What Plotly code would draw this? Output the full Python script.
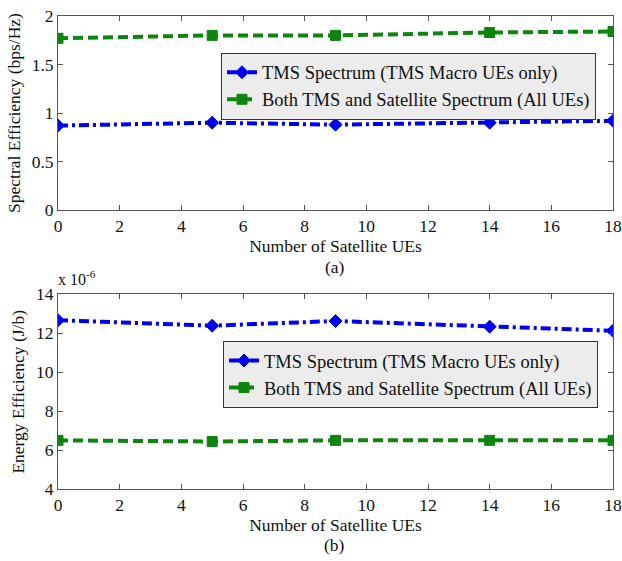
import plotly.graph_objects as go

x_ues = [0, 5, 9, 14, 18]
se_tms = [0.87, 0.90, 0.88, 0.90, 0.92]
se_both = [1.77, 1.80, 1.80, 1.83, 1.84]
ee_tms = [12.67, 12.39, 12.63, 12.34, 12.13]
ee_both = [6.51, 6.45, 6.51, 6.51, 6.51]

name_tms = "TMS Spectrum (TMS Macro UEs only)"
name_both = "Both TMS and Satellite Spectrum (All UEs)"
xticks = list(range(0, 19, 2))

W, H = 622, 561
FONT = "Liberation Serif"
BLUE = "#0000f0"
GREEN = "#0e850e"

fig = go.Figure()

def add(x, y, name, color, dash, symbol, xa, ya, legend):
    fig.add_trace(go.Scatter(
        x=x, y=y, name=name, mode="lines+markers",
        line=dict(color=color, width=4, dash=dash),
        marker=dict(symbol=symbol, size=10, color=color,
                    line=dict(color=color, width=1)),
        xaxis=xa, yaxis=ya, legend=legend))

add(x_ues, se_tms, name_tms, BLUE, "10px,4px,3px,4px", "diamond", "x", "y", "legend")
add(x_ues, se_both, name_both, GREEN, "10px,5px", "square", "x", "y", "legend")
add(x_ues, ee_tms, name_tms, BLUE, "10px,4px,3px,4px", "diamond", "x2", "y2", "legend2")
add(x_ues, ee_both, name_both, GREEN, "10px,5px", "square", "x2", "y2", "legend2")

xd = [58 / W, 613 / W]
axis_common = dict(showgrid=False, zeroline=False, showline=True, mirror="allticks",
                   linecolor="#555555", linewidth=1, ticks="inside", ticklen=5,
                   tickcolor="#555555", automargin=False,
                   tickfont=dict(family=FONT, size=17.5, color="#111"))
TF = dict(family=FONT, size=17.5, color="#111")

fig.update_layout(
    template="none",
    width=W, height=H, margin=dict(l=0, r=0, t=0, b=0, autoexpand=False),
    paper_bgcolor="white", plot_bgcolor="white",
    font=dict(family=FONT, color="#111"),
    xaxis=dict(domain=xd, range=[0, 18], tickvals=xticks, anchor="y",
               title=dict(text="Number of Satellite UEs", font=TF, standoff=0),
               **axis_common),
    yaxis=dict(domain=[1 - 210 / H, 1 - 16 / H], range=[0, 2], tickvals=[0, 0.5, 1, 1.5, 2],
               ticktext=["0", "0.5", "1", "1.5", "2"], anchor="x",
               title=dict(text="Spectral Efficiency (bps/Hz)", font=TF, standoff=6),
               **axis_common),
    xaxis2=dict(domain=xd, range=[0, 18], tickvals=xticks, anchor="y2",
                title=dict(text="Number of Satellite UEs", font=TF, standoff=0),
                **axis_common),
    yaxis2=dict(domain=[1 - 489.3 / H, 1 - 294.3 / H], range=[4, 14], tickvals=[4, 6, 8, 10, 12, 14],
                anchor="x2",
                title=dict(text="Energy Efficiency (J/b)", font=TF, standoff=6),
                **axis_common),
    legend=dict(x=221 / W, y=1 - 52.7 / H, xanchor="left", yanchor="top",
                bgcolor="#ececec", bordercolor="#333333", borderwidth=1,
                font=dict(family=FONT, size=18.5, color="#111"), tracegroupgap=0,
                itemwidth=30),
    legend2=dict(x=223 / W, y=1 - 341 / H, xanchor="left", yanchor="top",
                 bgcolor="#ececec", bordercolor="#333333", borderwidth=1,
                 font=dict(family=FONT, size=18.5, color="#111"), tracegroupgap=0,
                 itemwidth=30),
    showlegend=True,
)

fig.add_annotation(text="(a)", x=335 / W, y=1 - 267 / H, xref="paper", yref="paper",
                   xanchor="center", yanchor="middle",
                   showarrow=False, font=TF)
fig.add_annotation(text="(b)", x=334 / W, y=1 - 545 / H, xref="paper", yref="paper",
                   xanchor="center", yanchor="middle",
                   showarrow=False, font=TF)
fig.add_annotation(text="x 10<sup>-6</sup>", x=56 / W, y=1 - 290 / H, xref="paper", yref="paper",
                   xanchor="left", yanchor="bottom", showarrow=False,
                   font=dict(family=FONT, size=16, color="#111"))

fig.write_html("out.html")
